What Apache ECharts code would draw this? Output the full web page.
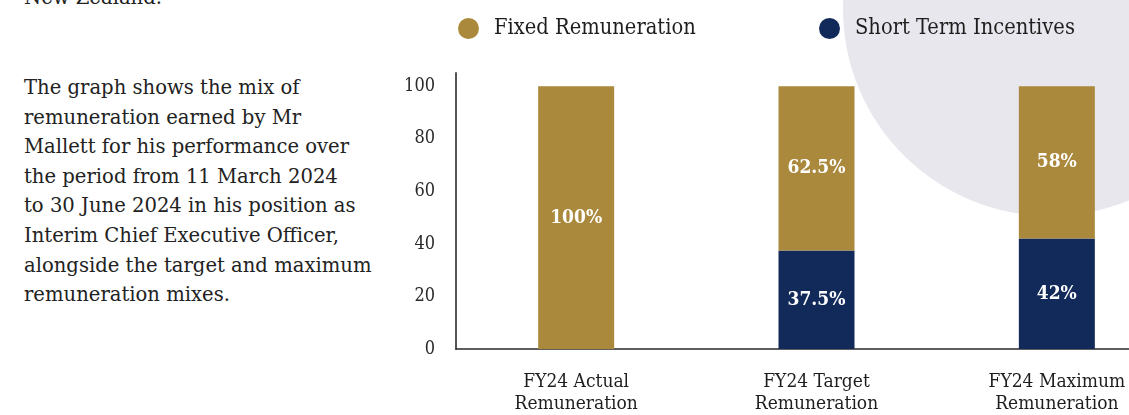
<!DOCTYPE html>
<html>
<head>
<meta charset="utf-8">
<script src="https://cdn.jsdelivr.net/npm/echarts@6/dist/echarts.min.js"></script>
<style>
  html, body { margin: 0; padding: 0; width: 1129px; height: 415px; overflow: hidden; background: #ffffff; }
  .blob { position: absolute; left: 843px; top: -198px; width: 414px; height: 414px; border-radius: 50%; background: #e8e7ee; z-index: 0; }
  .copy { position: absolute; left: 24px; font-family: "DejaVu Serif", serif; font-size: 19.6px; line-height: 29.6px; color: #222222; z-index: 1; white-space: nowrap; }
  #chart { position: absolute; left: 0; top: 0; width: 1200px; height: 415px; z-index: 2; }
</style>
</head>
<body>
<div class="blob"></div>
<div class="copy" style="top:-17px">New Zealand.</div>
<div class="copy" style="top:73px">The graph shows the mix of<br>remuneration earned by Mr<br>Mallett for his performance over<br>the period from 11 March 2024<br>to 30 June 2024 in his position as<br>Interim Chief Executive Officer,<br>alongside the target and maximum<br>remuneration mixes.</div>
<div id="chart"></div>
<script>
// Remuneration mix per scenario (percent of total)
const categories = ['FY24 Actual\nRemuneration', 'FY24 Target\nRemuneration', 'FY24 Maximum\nRemuneration'];
const fixedRemuneration = [100, 62.5, 58];
const shortTermIncentives = [null, 37.5, 42];
const yTicks = [0, 20, 40, 60, 80, 100];

const GOLD = '#aa893c';
const NAVY = '#112a59';
const SERIF = '"DejaVu Serif Condensed", "DejaVu Serif", serif';

const chart = echarts.init(document.getElementById('chart'), null, { renderer: 'canvas' });

const barLabel = {
  show: true,
  position: 'inside',
  color: '#ffffff',
  fontFamily: SERIF,
  fontWeight: 'bold',
  fontSize: 19,
  formatter: p => p.value + '%'
};

const legendText = { fontFamily: SERIF, fontSize: 21.7, color: '#1e1e1e', padding: [3, 0, 0, 10] };

chart.setOption({
  animation: false,
  legend: [
    {
      data: ['Fixed Remuneration'],
      left: 458, top: 17.5, padding: 0,
      icon: 'circle', itemWidth: 21, itemHeight: 21,
      textStyle: legendText
    },
    {
      data: ['Short Term Incentives'],
      left: 819, top: 17.5, padding: 0,
      icon: 'circle', itemWidth: 21, itemHeight: 21,
      textStyle: legendText
    }
  ],
  grid: { left: 456, right: 23, top: 73, bottom: 62, containLabel: false },
  xAxis: {
    type: 'category',
    data: categories,
    axisLine: { lineStyle: { color: '#2a2a2a', width: 1.5 } },
    axisTick: { show: false },
    axisLabel: { margin: 22, fontFamily: SERIF, fontSize: 19, lineHeight: 22, color: '#1e1e1e' }
  },
  yAxis: {
    type: 'value',
    min: 0, max: 105, interval: 20,
    splitLine: { show: false },
    axisTick: { show: false },
    axisLine: { show: true, lineStyle: { color: '#555555', width: 2 } },
    axisLabel: {
      margin: 21, fontFamily: SERIF, fontSize: 18, color: '#2a2a2a',
      formatter: v => (yTicks.includes(v) ? String(v) : '')
    }
  },
  series: [
    {
      name: 'Short Term Incentives',
      type: 'bar',
      stack: 'mix',
      barWidth: 76,
      data: shortTermIncentives,
      itemStyle: { color: NAVY },
      label: barLabel
    },
    {
      name: 'Fixed Remuneration',
      type: 'bar',
      stack: 'mix',
      barWidth: 76,
      data: fixedRemuneration,
      itemStyle: { color: GOLD },
      label: barLabel
    }
  ]
});
</script>
</body>
</html>
